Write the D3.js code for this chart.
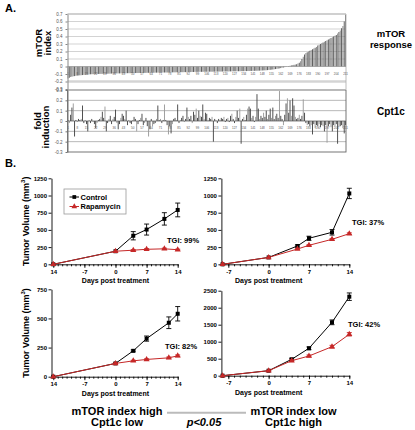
<!DOCTYPE html>
<html><head><meta charset="utf-8">
<script src="https://cdn.jsdelivr.net/npm/d3@7"></script>
<style>body{margin:0;background:#fff}svg{display:block;font-family:Arial,"Liberation Sans",sans-serif}</style>
</head><body><svg id="c" width="415" height="430"></svg>
<script>
// ---------- Panel A data ----------
const mtorIndex = [
-0.16,-0.15,-0.14,-0.135,-0.13,-0.128,-0.125,-0.122,-0.12,-0.118,
-0.116,-0.114,-0.112,-0.11,-0.108,-0.106,-0.105,-0.104,-0.103,-0.102,
-0.101,-0.1,-0.1,-0.099,-0.099,-0.098,-0.098,-0.097,-0.097,-0.096,
-0.096,-0.095,-0.095,-0.094,-0.094,-0.093,-0.093,-0.092,-0.092,-0.092,
-0.091,-0.091,-0.09,-0.09,-0.09,-0.089,-0.089,-0.089,-0.088,-0.088,
-0.088,-0.087,-0.087,-0.087,-0.086,-0.086,-0.086,-0.085,-0.085,-0.085,
-0.084,-0.084,-0.084,-0.083,-0.083,-0.083,-0.082,-0.082,-0.082,-0.081,
-0.081,-0.081,-0.08,-0.08,-0.08,-0.08,-0.079,-0.079,-0.079,-0.078,
-0.078,-0.078,-0.077,-0.077,-0.077,-0.076,-0.076,-0.076,-0.075,-0.075,
-0.075,-0.074,-0.074,-0.074,-0.073,-0.073,-0.072,-0.072,-0.072,-0.071,
-0.071,-0.071,-0.071,-0.07,-0.07,-0.07,-0.07,-0.069,-0.069,-0.069,
-0.069,-0.069,-0.068,-0.068,-0.068,-0.067,-0.067,-0.067,-0.066,-0.066,
-0.066,-0.066,-0.065,-0.065,-0.065,-0.064,-0.064,-0.064,-0.063,-0.063,
-0.063,-0.062,-0.062,-0.062,-0.061,-0.061,-0.06,-0.06,-0.059,-0.059,
-0.058,-0.058,-0.057,-0.057,-0.056,-0.055,-0.054,-0.053,-0.052,-0.051,
-0.05,-0.048,-0.046,-0.044,-0.042,-0.04,-0.037,-0.034,-0.031,-0.028,
-0.025,-0.021,-0.017,-0.013,-0.009,-0.005,0.002,0.006,0.01,0.014,
0.018,0.022,0.026,0.03,0.04,0.05,0.07,0.1,0.13,0.16,
0.18,0.19,0.2,0.21,0.22,0.23,0.24,0.25,0.26,0.28,
0.29,0.3,0.31,0.32,0.33,0.34,0.35,0.36,0.37,0.38,
0.39,0.4,0.41,0.42,0.44,0.46,0.48,0.51,0.54,0.6,0.69];

const cpt1cFold = [
0.01,-0.02,0.06,0.13,0.17,-0.15,0.01,-0.01,0.02,0.01,
0.02,0.15,-0.02,0.01,-0.03,-0.10,0.01,-0.02,0.02,-0.01,
-0.03,-0.07,-0.02,0.01,0.02,0.04,0.09,0.03,0.14,-0.10,
-0.02,0.02,0.05,-0.03,0.02,0.04,0.11,-0.02,-0.08,-0.03,
0.03,0.07,0.05,0.02,0.10,-0.04,0.01,-0.02,-0.03,0.01,
0.04,0.02,-0.10,-0.03,0.01,0.03,0.07,-0.04,-0.02,0.03,
-0.05,-0.15,-0.08,0.02,-0.05,-0.03,-0.02,0.02,0.15,0.01,
0.02,-0.02,0.01,0.16,0.01,-0.04,-0.13,-0.05,-0.12,-0.03,
0.02,0.03,0.01,0.16,-0.02,0.01,0.03,0.05,-0.01,0.02,
0.13,0.04,0.02,0.05,-0.02,0.09,0.06,0.12,0.03,0.10,
0.05,0.04,0.16,0.02,0.08,0.07,0.01,0.03,0.02,0.04,
-0.20,0.02,0.01,-0.02,0.02,0.01,0.03,0.02,0.04,-0.01,
0.02,0.03,-0.01,0.05,0.07,0.02,-0.02,0.04,0.10,0.03,
0.12,-0.22,0.02,0.04,0.01,0.06,0.12,0.14,0.12,0.03,
0.05,-0.01,0.04,0.26,0.12,0.02,0.05,0.03,0.08,0.04,
0.10,0.02,0.06,0.12,0.03,0.13,0.02,0.05,0.07,0.03,
0.29,0.05,0.02,-0.04,0.06,0.17,0.22,0.08,0.20,0.05,
0.22,0.15,0.04,0.02,0.03,0.06,0.02,0.05,0.21,0.08,
-0.02,-0.04,-0.03,-0.05,-0.04,-0.13,-0.03,-0.07,-0.04,-0.05,
-0.03,-0.06,-0.04,-0.05,-0.10,-0.04,-0.21,-0.05,-0.03,-0.06,
-0.10,-0.04,-0.05,-0.03,-0.22,-0.06,-0.05,-0.04,-0.07,-0.12,-0.04];

const sampleLabels = [1,8,15,22,29,36,43,50,57,64,71,78,85,92,99,106,113,120,127,134,141,148,155,162,169,176,183,190,197,204,211];
const topTicks = [-0.3,-0.2,-0.1,0,0.1,0.2,0.3,0.4,0.5,0.6,0.7];
const botTicks = [-0.3,-0.2,-0.1,0,0.1,0.2,0.3];

// ---------- Panel B data ----------
const days1 = [-14, 0, 4, 7, 11, 14];
const ctrl1 = [0, 190, 415, 505, 660, 790];
const ctrlErr1 = [0, 0, 60, 80, 90, 100];
const rapa1 = [0, 190, 205, 218, 225, 212];
const rapaErr1 = [0, 0, 8, 10, 10, 8];

const days2 = [-8, 0, 5, 7, 11, 14];
const ctrl2 = [0, 100, 266, 378, 465, 1030];
const ctrlErr2 = [0, 0, 15, 30, 40, 75];
const rapa2 = [0, 100, 222, 276, 363, 445];
const rapaErr2 = [0, 0, 8, 8, 10, 12];

const days3 = [-14, 0, 4, 7, 12, 14];
const ctrl3 = [0, 114, 222, 327, 463, 540];
const ctrlErr3 = [0, 5, 8, 22, 50, 62];
const rapa3 = [0, 114, 136, 148, 162, 179];
const rapaErr3 = [0, 4, 5, 6, 7, 8];

const days4 = [-8, 0, 4, 7, 11, 14];
const ctrl4 = [0, 147, 482, 806, 1570, 2324];
const ctrlErr4 = [0, 10, 30, 40, 70, 110];
const rapa4 = [0, 147, 441, 579, 853, 1218];
const rapaErr4 = [0, 10, 25, 30, 40, 50];

const xTicksWide = [-14, -7, 0, 7, 14];
const xTickLabelsWide = ["14", "-7", "0", "7", "14"];
const xTicksNarrow = [-7, 0, 7, 14];
const yTicks1250 = [0, 250, 500, 750, 1000, 1250];
const yTicks750 = [0, 250, 500, 750];
const yTicks2500 = [0, 500, 1000, 1500, 2000, 2500];
const tgiLabels = ["TGI: 99%", "TGI: 37%", "TGI: 82%", "TGI: 42%"];

const RED = "#c62828";
const svg = d3.select("#c");
svg.append("rect").attr("width", 415).attr("height", 430).attr("fill", "#fff");

// ================= Panel A =================
const xA = d3.scaleBand().domain(d3.range(mtorIndex.length)).range([67.5, 346]).paddingInner(0.3);
const yTop = d3.scaleLinear().domain([-0.3, 0.7]).range([89, 14]);
const yBot = d3.scaleLinear().domain([-0.3, 0.3]).range([152, 90]);
const fmtA = d => d === 0 ? "0" : d.toFixed(1);

const gTop = svg.append("g");
gTop.selectAll("line.grid").data(topTicks.filter(t => t > 0)).join("line")
  .attr("x1", 67.5).attr("x2", 346).attr("y1", d => yTop(d)).attr("y2", d => yTop(d))
  .attr("stroke", "#c8c8c8").attr("stroke-width", 0.8);
gTop.append("line").attr("x1", 67.5).attr("x2", 346).attr("y1", yTop(-0.2)).attr("y2", yTop(-0.2))
  .attr("stroke", "#d4d4d4").attr("stroke-width", 2.5);
gTop.append("line").attr("x1", 346).attr("x2", 346).attr("y1", yTop(0.7)).attr("y2", yTop(-0.3))
  .attr("stroke", "#aaa").attr("stroke-width", 0.8);
gTop.selectAll("rect.bar").data(mtorIndex).join("rect")
  .attr("x", (d, i) => xA(i)).attr("width", xA.bandwidth())
  .attr("y", d => yTop(Math.max(0, d))).attr("height", d => Math.abs(yTop(d) - yTop(0)))
  .attr("fill", (d, i) => i % 2 ? "#555" : "#8a8a8a");
gTop.append("line").attr("x1", 67.5).attr("x2", 346).attr("y1", yTop(0)).attr("y2", yTop(0))
  .attr("stroke", "#888").attr("stroke-width", 0.6);
gTop.selectAll("text.cat").data(sampleLabels).join("text")
  .attr("x", d => xA(d - 1) + xA.bandwidth() / 2).attr("y", 75)
  .attr("text-anchor", "middle").attr("font-size", 3).attr("fill", "#555").text(d => d);
const axTop = gTop.append("g").attr("transform", "translate(67.5,0)")
  .call(d3.axisLeft(yTop).tickValues(topTicks).tickFormat(fmtA).tickSize(2).tickSizeOuter(0));
axTop.selectAll("path,line").attr("stroke", "#888");
axTop.selectAll("text").attr("font-size", 4.5).attr("fill", "#555").attr("font-family", "Arial");

const gBot = svg.append("g");
gBot.selectAll("line.grid").data(botTicks.filter(t => t !== 0 && Math.abs(t) < 0.3)).join("line")
  .attr("x1", 67.5).attr("x2", 346).attr("y1", d => yBot(d)).attr("y2", d => yBot(d))
  .attr("stroke", "#999").attr("stroke-width", 0.7);
gBot.selectAll("rect.bar").data(cpt1cFold).join("rect")
  .attr("x", (d, i) => xA(i)).attr("width", xA.bandwidth())
  .attr("y", d => yBot(Math.max(0, d))).attr("height", d => Math.abs(yBot(d) - yBot(0)))
  .attr("fill", (d, i) => i % 3 === 1 ? "#999" : "#444");
gBot.append("line").attr("x1", 67.5).attr("x2", 346).attr("y1", yBot(0)).attr("y2", yBot(0))
  .attr("stroke", "#555").attr("stroke-width", 0.7);
gBot.selectAll("text.cat").data(sampleLabels).join("text")
  .attr("x", d => xA(d - 1) + xA.bandwidth() / 2).attr("y", 128.5)
  .attr("text-anchor", "middle").attr("font-size", 3).attr("fill", "#555").text(d => d);
gBot.append("rect").attr("x", 67.5).attr("y", yBot(0.3)).attr("width", 346 - 67.5).attr("height", yBot(-0.3) - yBot(0.3))
  .attr("fill", "none").attr("stroke", "#666").attr("stroke-width", 0.9);
const axBot = gBot.append("g").attr("transform", "translate(67.5,0)")
  .call(d3.axisLeft(yBot).tickValues(botTicks).tickFormat(fmtA).tickSize(2).tickSizeOuter(0));
axBot.selectAll("path,line").attr("stroke", "#777");
axBot.selectAll("text").attr("font-size", 4.5).attr("fill", "#555").attr("font-family", "Arial");
gTop.append("line").attr("x1", 67.5).attr("x2", 346).attr("y1", yTop(0.7)).attr("y2", yTop(0.7))
  .attr("stroke", "#aaa").attr("stroke-width", 0.8);

const bold = (sel) => sel.attr("font-weight", "bold").attr("fill", "#000");
bold(svg.append("text").attr("x", 5).attr("y", 12).attr("font-size", 11).text("A."));
bold(svg.append("text").attr("x", 5).attr("y", 167).attr("font-size", 11).text("B."));
function rotLabel(x, y, txt, size) {
  bold(svg.append("text").attr("transform", `translate(${x},${y}) rotate(-90)`)
    .attr("text-anchor", "middle").attr("font-size", size).text(txt));
}
rotLabel(42, 43, "mTOR", 9.5);
rotLabel(50.5, 43, "index", 9.5);
rotLabel(40.5, 121, "fold", 9.5);
rotLabel(49, 127, "induction", 9.5);
bold(svg.append("text").attr("x", 391).attr("y", 37).attr("text-anchor", "middle").attr("font-size", 9.5).text("mTOR"));
bold(svg.append("text").attr("x", 391).attr("y", 48).attr("text-anchor", "middle").attr("font-size", 9.5).text("response"));
bold(svg.append("text").attr("x", 391).attr("y", 115).attr("text-anchor", "middle").attr("font-size", 10).text("Cpt1c"));

// ================= Panel B =================
function panel(p) {
  const x = d3.scaleLinear().domain(p.xDom).range(p.xRange);
  const y = d3.scaleLinear().domain([0, p.yMax]).range(p.yRange);
  const g = svg.append("g");
  g.append("g").attr("transform", `translate(${p.xRange[0]},0)`)
    .call(d3.axisLeft(y).tickValues(p.yTicks).tickFormat(d3.format("d")).tickSize(3).tickSizeOuter(0).tickPadding(1.5));
  g.append("g").attr("transform", `translate(0,${p.yRange[0]})`)
    .call(d3.axisBottom(x).tickValues(p.xTicks).tickSize(3.5).tickSizeOuter(0).tickPadding(2)
      .tickFormat((d, i) => p.xLabels[i]));
  g.append("g").attr("transform", `translate(0,${p.yRange[0]})`)
    .call(d3.axisBottom(x).tickValues(d3.range(Math.ceil(p.xDom[0]), 15)).tickSize(2).tickFormat(""))
    .select(".domain").remove();
  g.selectAll(".domain, .tick line").attr("stroke", "#000").attr("stroke-width", 0.9);
  g.selectAll(".tick text").attr("font-size", 6).attr("font-weight", "bold").attr("fill", "#000").attr("font-family", "Arial");
  bold(g.append("text").attr("x", x(0)).attr("y", p.yRange[0] + 19).attr("text-anchor", "middle")
    .attr("font-size", 7).text("Days post treatment"));
  if (p.yLabel) {
    const t = g.append("text").attr("transform", `translate(${p.xRange[0] - 23},${(p.yRange[0] + p.yRange[1]) / 2}) rotate(-90)`)
      .attr("text-anchor", "middle").attr("font-size", 9).attr("font-weight", "bold");
    t.append("tspan").text("Tumor Volume (mm");
    t.append("tspan").attr("font-size", 6).attr("dy", -3.5).text("3");
    t.append("tspan").attr("dy", 3.5).text(")");
  }
  const series = [
    { v: p.ctrl, e: p.ctrlErr, c: "#000", sym: d3.symbolSquare, size: 16 },
    { v: p.rapa, e: p.rapaErr, c: RED, sym: d3.symbolTriangle, size: 16 }
  ];
  series.forEach(s => {
    const pts = p.days.map((d, i) => ({ d, v: s.v[i], e: s.e[i] }));
    g.append("path").datum(pts).attr("fill", "none").attr("stroke", s.c).attr("stroke-width", 1)
      .attr("d", d3.line().x(q => x(q.d)).y(q => y(q.v)));
    const eb = g.selectAll(null).data(pts.filter(q => q.e > 0)).join("g").attr("stroke", s.c).attr("stroke-width", 0.9);
    eb.append("line").attr("x1", q => x(q.d)).attr("x2", q => x(q.d)).attr("y1", q => y(q.v - q.e)).attr("y2", q => y(q.v + q.e));
    eb.append("line").attr("x1", q => x(q.d) - 2.5).attr("x2", q => x(q.d) + 2.5).attr("y1", q => y(q.v - q.e)).attr("y2", q => y(q.v - q.e));
    eb.append("line").attr("x1", q => x(q.d) - 2.5).attr("x2", q => x(q.d) + 2.5).attr("y1", q => y(q.v + q.e)).attr("y2", q => y(q.v + q.e));
    g.selectAll(null).data(pts).join("path")
      .attr("transform", q => `translate(${x(q.d)},${y(q.v)})`)
      .attr("d", d3.symbol().type(s.sym).size(s.size)).attr("fill", s.c);
  });
  bold(g.append("text").attr("x", p.tgiPos[0]).attr("y", p.tgiPos[1]).attr("font-size", 7.5).text(p.tgi));
  return g;
}

const wideRange = [51.5, 177.7], wideDom = [-14.4, 14];
const narrowDom = [-8.2, 14], narrowRange = [221.4, 349.3];
panel({ xDom: wideDom, xRange: wideRange, xTicks: xTicksWide, xLabels: xTickLabelsWide,
  yMax: 1250, yRange: [264.3, 178.3], yTicks: yTicks1250, yLabel: true,
  days: days1, ctrl: ctrl1, ctrlErr: ctrlErr1, rapa: rapa1, rapaErr: rapaErr1,
  tgi: tgiLabels[0], tgiPos: [167, 243] });
panel({ xDom: narrowDom, xRange: narrowRange, xTicks: xTicksNarrow, xLabels: xTicksNarrow.map(String),
  yMax: 1250, yRange: [264.3, 178.3], yTicks: yTicks1250, yLabel: false,
  days: days2, ctrl: ctrl2, ctrlErr: ctrlErr2, rapa: rapa2, rapaErr: rapaErr2,
  tgi: tgiLabels[1], tgiPos: [352, 225] });
panel({ xDom: wideDom, xRange: wideRange, xTicks: xTicksWide, xLabels: xTickLabelsWide,
  yMax: 750, yRange: [376.7, 289.3], yTicks: yTicks750, yLabel: true,
  days: days3, ctrl: ctrl3, ctrlErr: ctrlErr3, rapa: rapa3, rapaErr: rapaErr3,
  tgi: tgiLabels[2], tgiPos: [165, 349] });
panel({ xDom: narrowDom, xRange: narrowRange, xTicks: xTicksNarrow, xLabels: xTicksNarrow.map(String),
  yMax: 2500, yRange: [375.7, 290.7], yTicks: yTicks2500, yLabel: false,
  days: days4, ctrl: ctrl4, ctrlErr: ctrlErr4, rapa: rapa4, rapaErr: rapaErr4,
  tgi: tgiLabels[3], tgiPos: [348, 327] });

const lg = svg.append("g");
lg.append("rect").attr("x", 64).attr("y", 189).attr("width", 62).attr("height", 25)
  .attr("fill", "#fff").attr("stroke", "#999").attr("stroke-width", 0.8);
[{ n: "Control", c: "#000", s: d3.symbolSquare, y: 197 }, { n: "Rapamycin", c: RED, s: d3.symbolTriangle, y: 206.5 }]
  .forEach(r => {
    lg.append("line").attr("x1", 69.5).attr("x2", 79).attr("y1", r.y).attr("y2", r.y).attr("stroke", r.c).attr("stroke-width", 1);
    lg.append("path").attr("transform", `translate(74.3,${r.y})`).attr("d", d3.symbol().type(r.s).size(14)).attr("fill", r.c);
    bold(lg.append("text").attr("x", 80.5).attr("y", r.y + 2.7).attr("font-size", 7.5).text(r.n));
  });

bold(svg.append("text").attr("x", 117).attr("y", 415).attr("text-anchor", "middle").attr("font-size", 11).text("mTOR index high"));
bold(svg.append("text").attr("x", 117).attr("y", 426).attr("text-anchor", "middle").attr("font-size", 11).text("Cpt1c low"));
bold(svg.append("text").attr("x", 293.5).attr("y", 415).attr("text-anchor", "middle").attr("font-size", 11).text("mTOR index low"));
bold(svg.append("text").attr("x", 293.5).attr("y", 426).attr("text-anchor", "middle").attr("font-size", 11).text("Cpt1c high"));
svg.append("line").attr("x1", 167).attr("x2", 246).attr("y1", 412.7).attr("y2", 412.7).attr("stroke", "#bbb").attr("stroke-width", 2);
bold(svg.append("text").attr("x", 204).attr("y", 425.5).attr("text-anchor", "middle").attr("font-size", 11)
  .attr("font-style", "italic").text("p<0.05"));
</script></body></html>
